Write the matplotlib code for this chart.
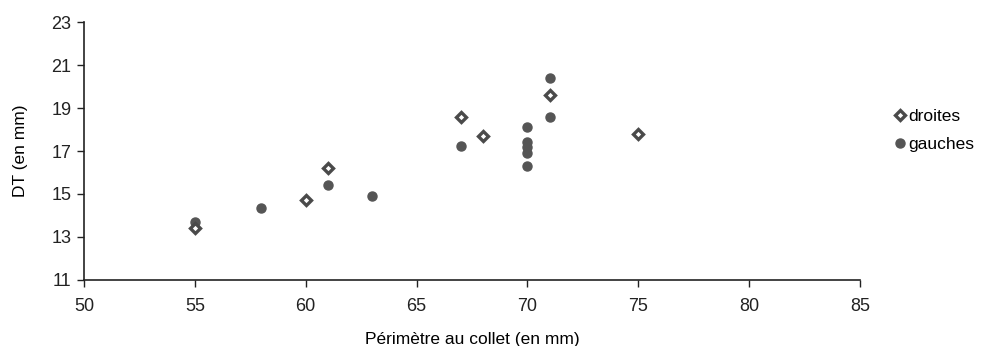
import matplotlib.pyplot as plt

# donnees
x_droites = [55, 60, 61, 67, 68, 71, 75]
y_droites = [13.4, 14.7, 16.2, 18.6, 17.7, 19.6, 17.8]

x_gauches = [55, 58, 61, 63, 67, 70, 70, 70, 70, 70, 71, 71]
y_gauches = [13.7, 14.35, 15.4, 14.9, 17.25, 18.1, 17.4, 17.2, 16.9, 16.3, 20.4, 18.6]

plt.rcParams['font.family'] = ['Liberation Sans', 'DejaVu Sans']

fig = plt.figure(figsize=(9.9, 3.46), dpi=100)
ax = fig.add_axes([0.0848, 0.191, 0.784, 0.745])

gris = '#4a4a4a'
ax.plot(x_droites, y_droites, linestyle='none', marker='D', markersize=5,
        markerfacecolor='white', markeredgecolor=gris, markeredgewidth=2.4,
        label='droites', zorder=3)
ax.plot(x_gauches, y_gauches, linestyle='none', marker='o', markersize=6.5,
        markerfacecolor='#555555', markeredgecolor='#555555',
        label='gauches', zorder=2)

ax.set_xlim(50, 85)
ax.set_ylim(11, 23)
ax.set_xticks(range(50, 86, 5))
ax.set_yticks(range(11, 24, 2))
ax.tick_params(direction='out', length=5, width=1, labelsize=13, colors='#222222')
ax.tick_params(axis='x', pad=8)
ax.tick_params(axis='y', pad=4)
for s in ['top', 'right']:
    ax.spines[s].set_visible(False)
for s in ['left', 'bottom']:
    ax.spines[s].set_linewidth(1.2)
    ax.spines[s].set_color('#222222')

ax.set_xlabel('Périmètre au collet (en mm)', fontsize=12.5, labelpad=12)
ax.set_ylabel('DT (en mm)', fontsize=12.5, labelpad=17)

ax.legend(loc='upper left', bbox_to_anchor=(0.893, 0.705), bbox_transform=fig.transFigure,
          frameon=False, fontsize=12.5, handletextpad=0.0, handlelength=1.0,
          labelspacing=0.75, borderaxespad=0)

fig.savefig('out.png', dpi=100)
